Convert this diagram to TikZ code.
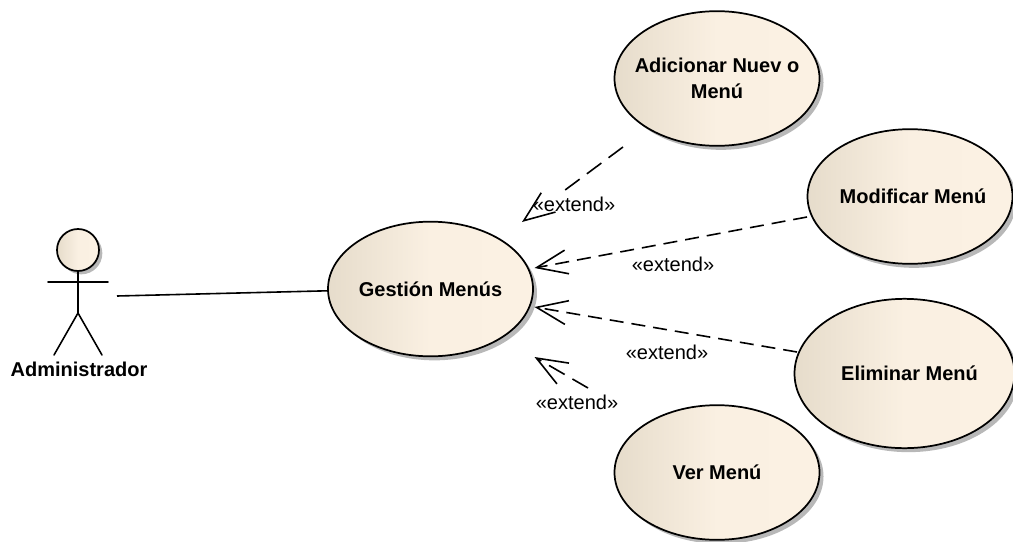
\documentclass[tikz,border=0pt]{standalone}
\usepackage{fontspec}
\setmainfont{Liberation Sans}
\usetikzlibrary{arrows.meta,shadows,shapes.geometric}
\definecolor{ucedge}{HTML}{E6DCCB}
\definecolor{ucmid}{HTML}{FAF0E2}
\definecolor{ucright}{HTML}{FBF1E3}
\newcommand{\uctext}[1]{\makebox[0pt][c]{#1}}
\tikzset{
  x=0.75pt,y=-0.75pt,
  ucfill/.style={left color=ucedge,right color=ucright,middle color=ucmid},
  uc/.style={ellipse,draw=black,line width=1.3pt,ucfill,
    minimum width=153.75pt,minimum height=101pt,inner sep=0pt,align=center,font=\fontsize{15}{19}\selectfont\bfseries,
    drop shadow={shadow xshift=3pt,shadow yshift=-3pt,fill=black!28,opacity=1}},
  ext/.style={line width=1.2pt,dash pattern=on 10.5pt off 6pt,-{Straight Barb[length=23pt,width=18pt,line width=1.2pt]}},
  extlong/.style={ext,dash pattern=on 13.5pt off 6.75pt},
  extbroken/.style={ext,dash pattern=on 13.5pt off 6.75pt on 13.5pt off 6.75pt on 13.5pt off 80pt},
  lab/.style={font=\fontsize{15}{17}\selectfont,inner sep=0pt},
  stick/.style={line width=1.2pt,line cap=round},
}
\begin{document}
\begin{tikzpicture}
\useasboundingbox (0,0) rectangle (1013,542);
\begin{scope}
\clip (0,0) rectangle (1013,542);
\node[uc] (gestion) at (430.5,289) {\uctext{Gestión Menús}};
\node[uc] (adicionar) at (717,78.5) {\uctext{Adicionar Nuev o}\\\uctext{Menú}};
\node[uc] (modificar) at (910,196.5) {\uctext{\hspace*{4.5pt}Modificar Menú}};
\node[uc,minimum width=165pt,minimum height=112pt] (eliminar) at (904.5,373.5) {\uctext{\hspace*{7.5pt}Eliminar Menú}};
\node[uc] (ver) at (717,472.5) {\uctext{Ver Menú}};
\end{scope}
% actor
\node[circle,draw=black,line width=1.3pt,ucfill,minimum size=31.5pt,inner sep=0pt,
  drop shadow={shadow xshift=2.5pt,shadow yshift=-2.5pt,fill=black!28,opacity=1}] (head) at (78,250) {};
\coordinate (hip) at (78,313);
\coordinate (armL) at (48,282);
\coordinate (armR) at (108,282);
\coordinate (footL) at (54,355);
\coordinate (footR) at (102,355);
\draw[stick] (head.south) -- (hip);
\draw[stick] (armL) -- (armR);
\draw[stick] (footL) -- (hip) -- (footR);
\node[font=\fontsize{15}{17}\selectfont\bfseries,inner sep=0pt] (admin) at (79,369) {Administrador};
% connectors
\coordinate (assocStart) at (117,296);
\draw[line width=1.2pt] (assocStart) -- (gestion.181.7);
\coordinate (a1) at (623,147);\coordinate (g1) at (522,222);
\coordinate (a2) at (807,217);\coordinate (g2) at (534.5,268);
\coordinate (a3) at (797,352);\coordinate (g3) at (534.5,307);
\coordinate (a4) at (588,388);\coordinate (g4) at (534.5,357);
\draw[extbroken] (a1) -- (g1);
\draw[ext] (a2) -- (g2);
\draw[ext] (a3) -- (g3);
\draw[extlong] (a4) -- (g4);
\node[lab] (l1) at (574,204) {«extend»};
\node[lab] (l2) at (673,264) {«extend»};
\node[lab] (l3) at (667,352) {«extend»};
\node[lab] (l4) at (577,402) {«extend»};
\end{tikzpicture}
\end{document}
